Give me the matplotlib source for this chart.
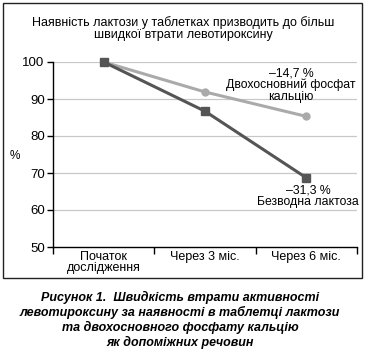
import matplotlib
matplotlib.use("Agg")
import matplotlib.pyplot as plt
from matplotlib.patches import Rectangle

plt.rcParams['font.family'] = ['Liberation Sans', 'DejaVu Sans']

# data
categories = ["Початок\nдослідження", "Через 3 міс.", "Через 6 міс."]
phosphate = [100, 91.9, 85.3]
lactose = [100, 86.7, 68.7]
yticks = [50, 60, 70, 80, 90, 100]

W, H = 368, 352
fig = plt.figure(figsize=(W / 100, H / 100), dpi=100)

# frame around the chart
fig.patches.append(Rectangle((3 / W, 1 - 278 / H), 359 / W, 275 / H,
                             transform=fig.transFigure, fill=False,
                             edgecolor='#222222', linewidth=1.0))

ax = fig.add_axes([53 / W, 1 - 247 / H, 304 / W, 185 / H])
x = [0.5, 1.5, 2.5]
ax.set_xlim(0, 3)
ax.set_ylim(50, 100)

for t in yticks[1:]:
    ax.axhline(t, color='#c8c8c8', linewidth=0.9, zorder=0)

ax.plot(x, phosphate, color='#aaaaaa', linewidth=2.2, marker='o',
        markersize=5, clip_on=False, zorder=3)
ax.plot(x, lactose, color='#555555', linewidth=2.2, marker='s',
        markersize=6, clip_on=False, zorder=4)

ax.set_yticks(yticks)
ax.set_yticklabels([str(t) for t in yticks], fontsize=9.5)
ax.set_xticks([0, 1, 2, 3])
ax.set_xticklabels([])
ax.set_xticks(x, minor=True)
ax.set_xticklabels(categories, minor=True, fontsize=9, linespacing=0.85)
ax.tick_params(axis='x', which='minor', length=0, pad=3)
ax.tick_params(axis='x', which='major', length=5, width=1, direction='out')
ax.tick_params(axis='y', length=4, width=1, direction='out', pad=2)

for s in ['top', 'right']:
    ax.spines[s].set_visible(False)
ax.spines['left'].set_linewidth(1)
ax.spines['bottom'].set_linewidth(1)

ax.text(2.35, 93.8, "–14,7 %\nДвохосновний фосфат\nкальцію", ha='center',
        va='center', fontsize=8.8, linespacing=0.95)
ax.text(2.52, 63.8, "–31,3 %\nБезводна лактоза", ha='center',
        va='center', fontsize=8.8, linespacing=0.95)

fig.text(15 / W, 1 - 156 / H, "%", fontsize=8.5, ha='center', va='center')
fig.text(183 / W, 1 - 28.5 / H,
         "Наявність лактози у таблетках призводить до більш\nшвидкої втрати левотироксину",
         ha='center', va='center', fontsize=9, linespacing=1.0)

fig.text(180 / W, 1 - 320 / H,
         "Рисунок 1.  Швидкість втрати активності\nлевотироксину за наявності в таблетці лактози\n"
         "та двохосновного фосфату кальцію\nяк допоміжних речовин",
         ha='center', va='center', fontsize=9, fontweight='bold',
         fontstyle='italic', linespacing=1.22)

fig.savefig("out.png", dpi=100)
